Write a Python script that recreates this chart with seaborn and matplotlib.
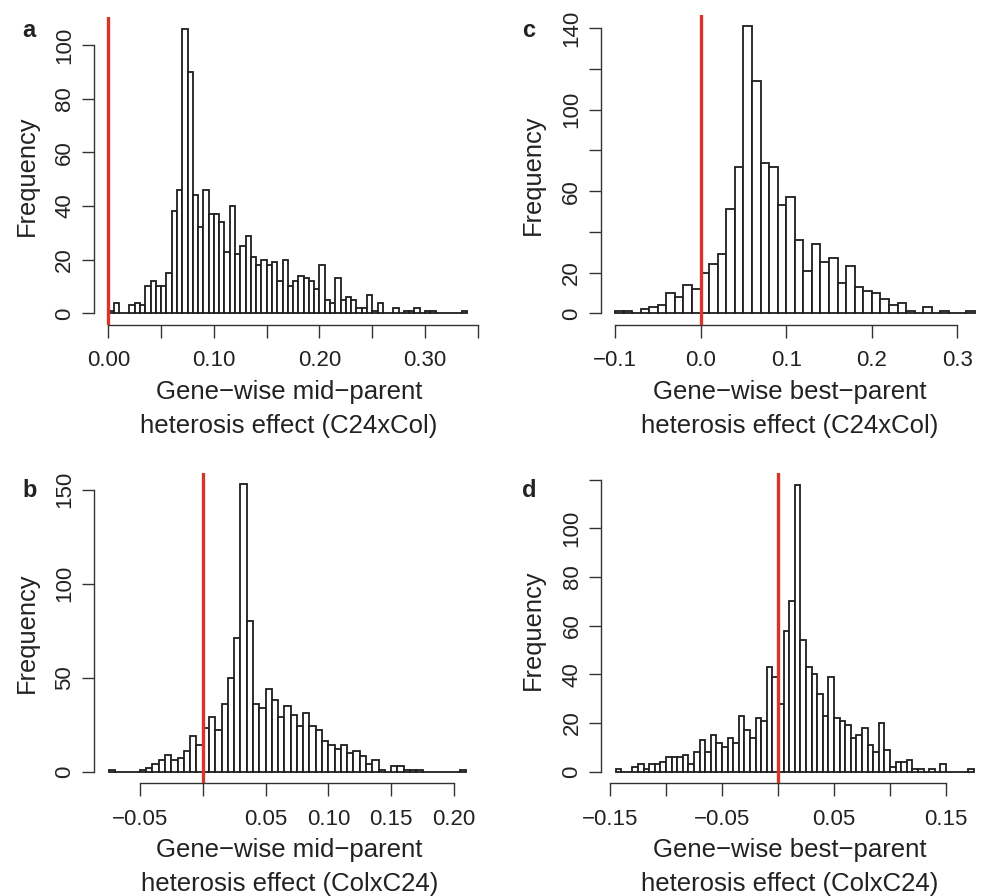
import numpy as np
import pandas as pd
import matplotlib
matplotlib.use("Agg")
import matplotlib.pyplot as plt
import seaborn as sns

# ---------------- data (counts) ----------------
# panel a: mid-parent, C24xCol; bins of 0.005 from 0.00
a_start, a_width = 0.0, 0.005
a_counts = [1, 4, 0, 0, 3, 4, 3, 10, 12, 10, 10, 15, 38, 46, 106, 90, 44, 32, 46, 37,
            37, 34, 23, 40, 22, 25, 29, 21, 18, 20, 18, 19, 12, 20, 10, 12, 14, 13, 12, 9,
            18, 5, 4, 13, 5, 6, 5, 2, 2, 7, 1, 4, 0, 0, 2, 0, 1, 1, 2, 0,
            1, 1, 0, 0, 0, 0, 0, 1]

# panel c: best-parent, C24xCol; bins of 0.01 from -0.10
c_start, c_width = -0.10, 0.01
c_counts = [1, 1, 0, 2, 3, 4, 10, 8, 14, 12, 20, 24, 29, 51, 72, 141, 114, 74, 72, 53,
            57, 36, 21, 34, 25, 27, 15, 23, 13, 11, 10, 7, 4, 5, 1, 0, 3, 0, 1, 0,
            0, 1]

# panel b: mid-parent, ColxC24; bins of 0.005 from -0.075
b_start, b_width = -0.075, 0.005
b_counts = [1, 0, 0, 0, 0, 1, 2, 4, 6, 9, 6, 7, 11, 19, 14, 23, 29, 22, 36, 50,
            71, 153, 80, 36, 34, 44, 38, 29, 35, 30, 24, 31, 24, 22, 16, 14, 12, 14, 10, 11,
            8, 4, 6, 1, 0, 3, 3, 1, 1, 1, 0, 0, 0, 0, 0, 0, 1]

# panel d: best-parent, ColxC24; bins of 0.005 from -0.145
d_start, d_width = -0.145, 0.005
d_counts = [1, 0, 0, 2, 3, 1, 3, 3, 4, 6, 6, 6, 7, 3, 8, 13, 8, 15, 12, 10,
            14, 12, 23, 17, 14, 22, 21, 43, 39, 28, 58, 70, 118, 54, 43, 40, 32, 23, 39, 22,
            21, 19, 14, 15, 18, 11, 8, 20, 9, 2, 4, 4, 5, 1, 1, 0, 1, 0, 3, 0,
            0, 0, 0, 1]

a_xticks = [0.00, 0.05, 0.10, 0.15, 0.20, 0.25, 0.30, 0.35]
a_xlabels = ["0.00", "", "0.10", "", "0.20", "", "0.30", ""]
a_yticks = [0, 20, 40, 60, 80, 100]
a_ylabels = ["0", "20", "40", "60", "80", "100"]

c_xticks = [-0.1, 0.0, 0.1, 0.2, 0.3]
c_xlabels = ["\u22120.1", "0.0", "0.1", "0.2", "0.3"]
c_yticks = [0, 20, 40, 60, 80, 100, 120, 140]
c_ylabels = ["0", "20", "", "60", "", "100", "", "140"]

b_xticks = [-0.05, 0.00, 0.05, 0.10, 0.15, 0.20]
b_xlabels = ["\u22120.05", "", "0.05", "0.10", "0.15", "0.20"]
b_yticks = [0, 50, 100, 150]
b_ylabels = ["0", "50", "100", "150"]

d_xticks = [-0.15, -0.10, -0.05, 0.00, 0.05, 0.10, 0.15]
d_xlabels = ["\u22120.15", "", "\u22120.05", "", "0.05", "", "0.15"]
d_yticks = [0, 20, 40, 60, 80, 100, 120]
d_ylabels = ["0", "20", "40", "60", "80", "100", ""]

xlab_a = ["Gene\u2212wise mid\u2212parent", "heterosis effect (C24xCol)"]
xlab_c = ["Gene\u2212wise best\u2212parent", "heterosis effect (C24xCol)"]
xlab_b = ["Gene\u2212wise mid\u2212parent", "heterosis effect (ColxC24)"]
xlab_d = ["Gene\u2212wise best\u2212parent", "heterosis effect (ColxC24)"]
ylab = "Frequency"
letters = ["a", "c", "b", "d"]

# ---------------- style ----------------
sns.set_style("ticks")
plt.rcParams["font.family"] = ["Liberation Sans", "DejaVu Sans"]
TXT = "#222222"

W, H = 982, 896
fig = plt.figure(figsize=(W / 100, H / 100), dpi=100)


def rect(l, r, t, b):
    return [l / W, 1 - b / H, (r - l) / W, (b - t) / H]


panels = [
    dict(counts=a_counts, start=a_start, width=a_width, rect=rect(94, 481.6, 17.5, 324.7),
         xt=a_xticks, xl=a_xlabels, yt=a_yticks, yl=a_ylabels),
    dict(counts=c_counts, start=c_start, width=c_width, rect=rect(600.6, 989, 14.7, 324.8),
         xt=c_xticks, xl=c_xlabels, yt=c_yticks, yl=c_ylabels),
    dict(counts=b_counts, start=b_start, width=b_width, rect=rect(94.2, 480.8, 472.7, 783),
         xt=b_xticks, xl=b_xlabels, yt=b_yticks, yl=b_ylabels),
    dict(counts=d_counts, start=d_start, width=d_width, rect=rect(601.3, 988.3, 473.1, 783.2),
         xt=d_xticks, xl=d_xlabels, yt=d_yticks, yl=d_ylabels),
]

for p in panels:
    counts = np.asarray(p["counts"], dtype=float)
    n = len(counts)
    edges = p["start"] + p["width"] * np.arange(n + 1)
    centers = 0.5 * (edges[:-1] + edges[1:])
    df = pd.DataFrame({"x": centers, "w": counts})
    ax = fig.add_axes(p["rect"])
    sns.histplot(data=df, x="x", weights="w", bins=list(edges), ax=ax, stat="count",
                 color="white", edgecolor="#1e1e1e", linewidth=1.3, alpha=1.0)
    ax.axvline(0.0, color="#D9342B", linewidth=2.4, zorder=5)
    # R-like usr extents (4% padding)
    xr = edges[-1] - edges[0]
    ax.set_xlim(edges[0] - 0.04 * xr, edges[-1] + 0.04 * xr)
    ymax = counts.max()
    ax.set_ylim(-0.04 * ymax, 1.04 * ymax)
    ax.set_xlabel("")
    ax.set_ylabel("")
    ax.set_xticks(p["xt"])
    ax.set_xticklabels(p["xl"])
    ax.set_yticks(p["yt"])
    ax.set_yticklabels(p["yl"], rotation=90, va="center")
    for sp in ["top", "right"]:
        ax.spines[sp].set_visible(False)
    for sp in ["left", "bottom"]:
        ax.spines[sp].set_linewidth(1.0)
        ax.spines[sp].set_color("#333333")
    ax.spines["bottom"].set_bounds(p["xt"][0], p["xt"][-1])
    ax.spines["left"].set_bounds(p["yt"][0], p["yt"][-1])
    ax.tick_params(axis="both", direction="out", length=9, width=1.0,
                   color="#333333", labelsize=16, labelcolor=TXT)
    ax.tick_params(axis="x", pad=9.5)
    ax.tick_params(axis="y", pad=4.5)
    ax.patch.set_alpha(0)


def ft(x, y, s, **kw):
    fig.text(x / W, 1 - y / H, s, color=TXT, **kw)


# panel letters (left edge, baseline)
for (x, y), s in zip([(22, 37), (522, 37), (22, 497), (522, 497)], letters):
    ft(x, y, s, fontsize=17, fontweight="bold", ha="left", va="baseline")

# y labels
for (x, y) in [(27, 175.5), (533, 174.3), (27, 632.5), (533, 630)]:
    ft(x, y, ylab, fontsize=18.3, rotation=90, ha="center", va="center")

# x labels (two lines, placed by baseline)
for (x, y), lines in zip([(289, 399), (790, 399), (289.5, 857), (790, 857)],
                         [xlab_a, xlab_c, xlab_b, xlab_d]):
    ft(x, y, lines[0], fontsize=18.5, ha="center", va="baseline")
    ft(x, y + 34, lines[1], fontsize=18.5, ha="center", va="baseline")

fig.savefig("out.png", dpi=100)
